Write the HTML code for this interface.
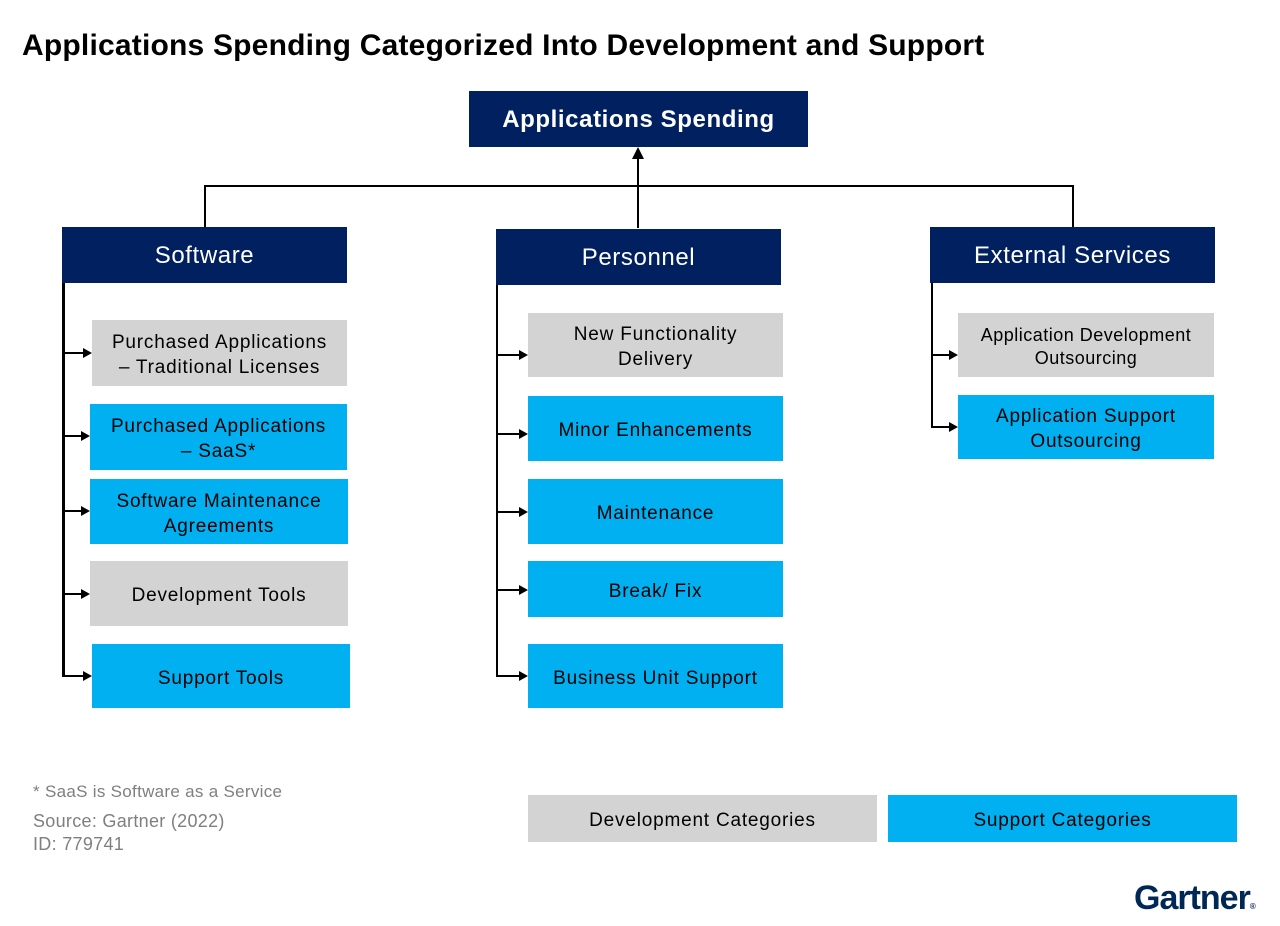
<!DOCTYPE html>
<html><head><style>
body{margin:0;width:1280px;height:926px;background:#fff;position:relative;font-family:"Liberation Sans",Arial,sans-serif;overflow:hidden}
.b{position:absolute;display:flex;align-items:center;justify-content:center;text-align:center;font-size:19px;letter-spacing:0.8px;color:#000;line-height:25px;box-sizing:border-box;padding-top:4px}
.n{background:#002060;color:#fff;font-size:24px;letter-spacing:0.6px;padding-top:0}
.g{background:#d3d3d3}
.c{background:#00b0f0}
.l{position:absolute;background:#000}
.t{position:absolute;color:#7f7f7f;font-size:17px;letter-spacing:0.3px}
</style></head><body>
<div style="position:absolute;left:22px;top:29px;font-size:30px;font-weight:bold;color:#000;letter-spacing:0.2px">Applications Spending Categorized Into Development and Support</div>
<div class="b n" style="left:469px;top:91px;width:339px;height:56px;font-weight:bold;font-size:24px">Applications Spending</div>
<div class="l" style="left:204px;top:185px;width:870px;height:2px"></div>
<div class="l" style="left:637px;top:158px;width:2px;height:70px"></div>
<svg style="position:absolute;left:632px;top:147px" width="12" height="14"><polygon points="6,0 0,12 12,12" fill="#000"/></svg>
<div class="l" style="left:204px;top:185px;width:2px;height:42px"></div>
<div class="l" style="left:1072px;top:185px;width:2px;height:42px"></div>
<div class="b n" style="left:62px;top:227px;width:285px;height:56px">Software</div>
<div class="b n" style="left:496px;top:229px;width:285px;height:56px">Personnel</div>
<div class="b n" style="left:930px;top:227px;width:285px;height:56px">External Services</div>
<div class="l" style="left:62px;top:283px;width:3px;height:394px"></div>
<div class="l" style="left:496px;top:285px;width:2px;height:392px"></div>
<div class="l" style="left:931px;top:283px;width:2px;height:145px"></div>
<svg style="position:absolute;left:0;top:0" width="1280" height="926">
<g stroke="#000" stroke-width="2" fill="#000">
<line x1="63" y1="353" x2="84" y2="353"/><polygon points="92,353 83,348 83,358" stroke="none"/>
<line x1="63" y1="436" x2="82" y2="436"/><polygon points="90,436 81,431 81,441" stroke="none"/>
<line x1="63" y1="511" x2="82" y2="511"/><polygon points="90,511 81,506 81,516" stroke="none"/>
<line x1="63" y1="594" x2="82" y2="594"/><polygon points="90,594 81,589 81,599" stroke="none"/>
<line x1="63" y1="676" x2="84" y2="676"/><polygon points="92,676 83,671 83,681" stroke="none"/>
<line x1="497" y1="355" x2="520" y2="355"/><polygon points="528,355 519,350 519,360" stroke="none"/>
<line x1="497" y1="434" x2="520" y2="434"/><polygon points="528,434 519,429 519,439" stroke="none"/>
<line x1="497" y1="512" x2="520" y2="512"/><polygon points="528,512 519,507 519,517" stroke="none"/>
<line x1="497" y1="590" x2="520" y2="590"/><polygon points="528,590 519,585 519,595" stroke="none"/>
<line x1="497" y1="676" x2="520" y2="676"/><polygon points="528,676 519,671 519,681" stroke="none"/>
<line x1="932" y1="355" x2="950" y2="355"/><polygon points="958,355 949,350 949,360" stroke="none"/>
<line x1="932" y1="427" x2="950" y2="427"/><polygon points="958,427 949,422 949,432" stroke="none"/>
</g></svg>
<div class="b g" style="left:92px;top:320px;width:255px;height:66px">Purchased Applications<br>– Traditional Licenses</div>
<div class="b c" style="left:90px;top:404px;width:257px;height:66px">Purchased Applications<br>– SaaS*</div>
<div class="b c" style="left:90px;top:479px;width:258px;height:65px">Software Maintenance<br>Agreements</div>
<div class="b g" style="left:90px;top:561px;width:258px;height:65px">Development Tools</div>
<div class="b c" style="left:92px;top:644px;width:258px;height:64px">Support Tools</div>
<div class="b g" style="left:528px;top:313px;width:255px;height:64px">New Functionality<br>Delivery</div>
<div class="b c" style="left:528px;top:396px;width:255px;height:65px">Minor Enhancements</div>
<div class="b c" style="left:528px;top:479px;width:255px;height:65px">Maintenance</div>
<div class="b c" style="left:528px;top:561px;width:255px;height:56px">Break/ Fix</div>
<div class="b c" style="left:528px;top:644px;width:255px;height:64px">Business Unit Support</div>
<div class="b g" style="left:958px;top:313px;width:256px;height:64px;font-size:18px;letter-spacing:0.5px;line-height:23px">Application Development<br>Outsourcing</div>
<div class="b c" style="left:958px;top:395px;width:256px;height:64px">Application Support<br>Outsourcing</div>
<div class="b g" style="left:528px;top:795px;width:349px;height:47px">Development Categories</div>
<div class="b c" style="left:888px;top:795px;width:349px;height:47px">Support Categories</div>
<div class="t" style="left:33px;top:782px">* SaaS is Software as a Service</div>
<div class="t" style="left:33px;top:811px;font-size:18px">Source: Gartner (2022)</div>
<div class="t" style="left:33px;top:834px;font-size:18px">ID: 779741</div>
<div style="position:absolute;left:1134px;top:879px;font-size:34px;font-weight:bold;color:#002856;letter-spacing:-1px">Gartner<span style="font-size:8px">®</span></div>
</body></html>
